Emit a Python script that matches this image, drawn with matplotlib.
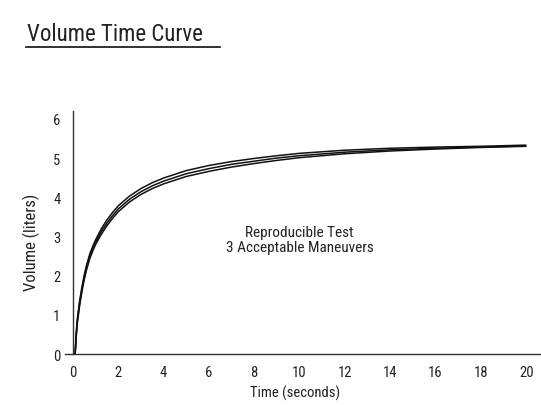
import matplotlib
matplotlib.use("Agg")
import matplotlib.pyplot as plt
from matplotlib.lines import Line2D

plt.rcParams['font.family'] = ['Roboto Condensed', 'DejaVu Sans']

# time points (seconds) and volume readings (liters) for the three maneuvers
time_s = [0.1, 0.15, 0.2, 0.3, 0.4, 0.5, 0.6, 0.75, 0.9, 1.0, 1.25, 1.5, 1.75, 2.0,
          2.5, 3.0, 3.5, 4.0, 5.0, 6.0, 7.0, 8.0, 9.0, 10.0, 12.0, 14.0, 16.0,
          18.0, 20.0]
trial_a = [0.0, 0.55, 0.91, 1.36, 1.71, 2.01, 2.26, 2.56, 2.78, 2.91, 3.19, 3.42,
           3.61, 3.78, 4.03, 4.22, 4.37, 4.49, 4.68, 4.81, 4.91, 4.99, 5.06, 5.12,
           5.20, 5.25, 5.28, 5.30, 5.33]
trial_b = [0.0, 0.5, 0.85, 1.3, 1.65, 1.95, 2.2, 2.5, 2.72, 2.85, 3.12, 3.34,
           3.53, 3.7, 3.95, 4.14, 4.29, 4.41, 4.6, 4.73, 4.84, 4.92, 5.0, 5.06,
           5.15, 5.21, 5.25, 5.28, 5.31]
trial_c = [0.0, 0.45, 0.79, 1.24, 1.59, 1.89, 2.14, 2.44, 2.66, 2.79, 3.05, 3.27,
           3.46, 3.63, 3.88, 4.07, 4.22, 4.34, 4.53, 4.66, 4.77, 4.86, 4.94, 5.01,
           5.11, 5.18, 5.23, 5.27, 5.30]

x_ticks = list(range(0, 21, 2))
y_ticks = list(range(0, 7))

fig = plt.figure(figsize=(5.41, 4.06), dpi=100)
ax = fig.add_axes([0.12, 0.1256, 0.878, 0.5985])

for vals in (trial_a, trial_b, trial_c):
    ax.plot(time_s, vals, color='#111111', lw=1.1, solid_capstyle='butt')

ax.set_xlim(-0.35, 20.6)
ax.set_ylim(0, 6.2)
ax.spines['left'].set_position(('data', 0))
ax.spines['top'].set_visible(False)
ax.spines['right'].set_visible(False)
for s in ('left', 'bottom'):
    ax.spines[s].set_color('#333333')
    ax.spines[s].set_linewidth(1.0)

ax.set_xticks(x_ticks)
ax.set_yticks(y_ticks)
ax.tick_params(length=0, labelsize=10.5, colors='#222222', pad=8)
ax.tick_params(axis='y', pad=9)

ax.set_xlabel('Time (seconds)', fontsize=10.5, color='#222222')
ax.xaxis.set_label_coords(0.485, -0.125)
ax.xaxis.label.set_va('top')
ax.set_ylabel('Volume (liters)', fontsize=12, color='#222222')
ax.yaxis.set_label_coords(-0.052, 0.465)

ax.text(10.0, 2.92, 'Reproducible Test\n3 Acceptable Maneuvers', ha='center',
        va='center', fontsize=11, color='#222222', linespacing=1.15)

fig.text(0.05, 0.9, 'Volume Time Curve', fontsize=16.5, color='#222222',
         ha='left', va='baseline')
fig.add_artist(Line2D([0.048, 0.407], [0.882, 0.882], color='#222222', lw=1.3,
                      transform=fig.transFigure))

fig.savefig('out.png', dpi=100)
